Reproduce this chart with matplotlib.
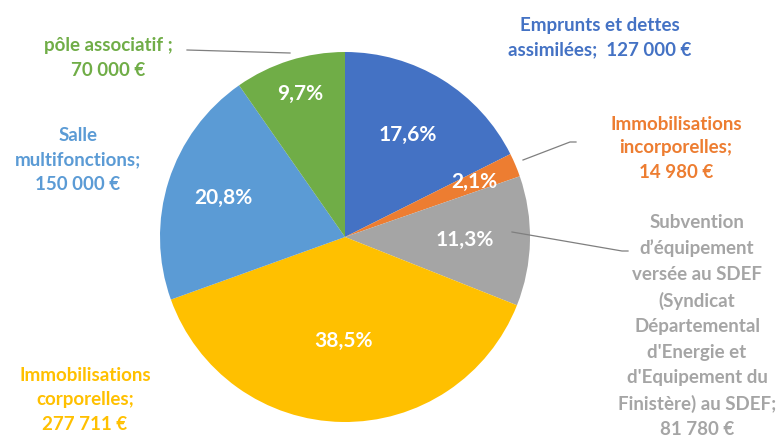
import numpy as np
import matplotlib.pyplot as plt

categories = ["Emprunts et dettes\nassimilées;  127 000 €",
              "Immobilisations\nincorporelles;\n14 980 €",
              "Subvention\nd’équipement\nversée au SDEF\n(Syndicat\nDépartemental\nd'Energie et\nd'Equipement du\nFinistère) au SDEF;\n81 780 €",
              "Immobilisations\ncorporelles;\n277 711 €",
              "Salle\nmultifonctions;\n150 000 €",
              "pôle associatif ;\n70 000 €"]
values = [127000, 14980, 81780, 277711, 150000, 70000]
colors = ["#4472C4", "#ED7D31", "#A5A5A5", "#FFC000", "#5B9BD5", "#70AD47"]
label_colors = ["#4472C4", "#ED7D31", "#A5A5A5", "#FFC000", "#5B9BD5", "#70AD47"]

plt.rcParams['font.family'] = ['Lato', 'DejaVu Sans']

W, H = 783, 437
fig = plt.figure(figsize=(W / 100, H / 100), dpi=100)
ax = fig.add_axes([0, 0, 1, 1])

cx, cy, R = 345, H - 237, 185
wedges, _ = ax.pie(values, colors=colors, startangle=90, counterclock=False,
                   center=(cx, cy), radius=R, frame=True,
                   wedgeprops=dict(linewidth=0))
ax.set_xlim(0, W)
ax.set_ylim(0, H)
ax.set_aspect('equal')
ax.axis('off')

total = sum(values)
pct_r = [0.65, 0.76, 0.65, 0.56, 0.69, 0.81]
for w, v, r in zip(wedges, values, pct_r):
    a = np.deg2rad((w.theta1 + w.theta2) / 2)
    txt = f"{100 * v / total:.1f}%".replace('.', ',')
    ax.text(cx + r * R * np.cos(a), cy + r * R * np.sin(a), txt,
            ha='center', va='center', color='white', fontsize=15, fontweight='bold')

# outer labels (pixel coords from top)
label_pos = [(600, 38), (676, 148), (697, 326), (85, 400), (78, 160), (108, 58)]
spacing = [1.5, 1.5, 1.6, 1.55, 1.55, 1.5]
for lab, (x, y), c, ls in zip(categories, label_pos, label_colors, spacing):
    ax.text(x, H - y, lab, ha='center', va='center', color=c, fontsize=13.5,
            fontweight='bold', linespacing=ls)

# leader lines
lc = '#7f7f7f'
ax.plot([187, 290], [H - 50, H - 53], color=lc, lw=0.9)
ax.plot([523, 570, 576], [H - 160, H - 142, H - 142], color=lc, lw=0.9)
ax.plot([512, 622, 628], [H - 232, H - 251, H - 251], color=lc, lw=0.9)

fig.savefig('out.png', dpi=100)
